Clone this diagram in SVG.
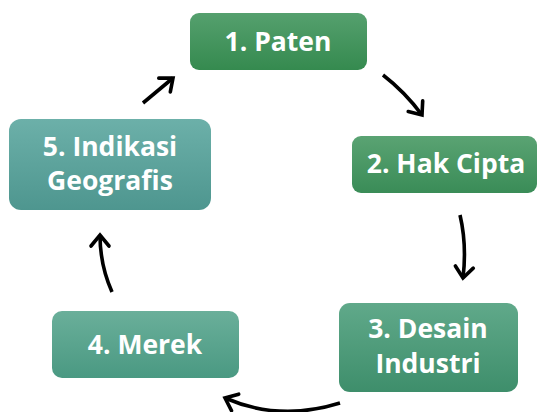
<svg xmlns="http://www.w3.org/2000/svg" width="540" height="412" viewBox="0 0 540 412">
<defs>
<linearGradient id="g1" x1="0" y1="0" x2="0" y2="1"><stop offset="0" stop-color="#55a06e"/><stop offset="1" stop-color="#358a4f"/></linearGradient>
<linearGradient id="g2" x1="0" y1="0" x2="0" y2="1"><stop offset="0" stop-color="#5aa373"/><stop offset="1" stop-color="#3a8c57"/></linearGradient>
<linearGradient id="g3" x1="0" y1="0" x2="0" y2="1"><stop offset="0" stop-color="#60a98a"/><stop offset="1" stop-color="#3e8e6b"/></linearGradient>
<linearGradient id="g4" x1="0" y1="0" x2="0" y2="1"><stop offset="0" stop-color="#6aaf9a"/><stop offset="1" stop-color="#4a9982"/></linearGradient>
<linearGradient id="g5" x1="0" y1="0" x2="0" y2="1"><stop offset="0" stop-color="#6cb0a9"/><stop offset="1" stop-color="#4e968f"/></linearGradient>
<marker id="ah" markerUnits="userSpaceOnUse" markerWidth="24" markerHeight="24" viewBox="-16 -12 24 24" refX="0" refY="0" orient="auto">
<path d="M-11,-9 L0,0 L-11,9" fill="none" stroke="#000" stroke-width="3.6" stroke-linecap="round" stroke-linejoin="miter"/>
</marker>
</defs>
<style>
.box{stroke:none}
.t{font-family:"Open Sans","Liberation Sans",sans-serif;font-weight:700;font-size:26.5px;fill:#fff;text-anchor:middle}
.c{fill:none;stroke:#000;stroke-width:3.6;stroke-linecap:butt}
</style>
<g id="connectors">
<path class="c" d="M383,75 Q405,92 422,115" marker-end="url(#ah)"/>
<path class="c" d="M460,215 Q467,245 463,278" marker-end="url(#ah)"/>
<path class="c" d="M340,403 Q280,422 225,398" marker-end="url(#ah)"/>
<path class="c" d="M112,292 Q100,265 100,235" marker-end="url(#ah)"/>
<path class="c" d="M143,103 L173,78" marker-end="url(#ah)"/>
</g>
<g id="n1"><rect class="box" x="190" y="13" width="177" height="57" rx="9" fill="url(#g1)"/><text class="t" x="278" y="51">1. Paten</text></g>
<g id="n2"><rect class="box" x="352" y="136" width="185" height="57" rx="9" fill="url(#g2)"/><text class="t" x="446" y="173">2. Hak Cipta</text></g>
<g id="n3"><rect class="box" x="339" y="303" width="179" height="89" rx="11" fill="url(#g3)"/><text class="t" x="428" y="338">3. Desain</text><text class="t" x="428" y="373">Industri</text></g>
<g id="n4"><rect class="box" x="52" y="311" width="187" height="67" rx="10" fill="url(#g4)"/><text class="t" x="145" y="354">4. Merek</text></g>
<g id="n5"><rect class="box" x="9" y="119" width="202" height="91" rx="12" fill="url(#g5)"/><text class="t" x="110" y="156">5. Indikasi</text><text class="t" x="110" y="190">Geografis</text></g>
</svg>
